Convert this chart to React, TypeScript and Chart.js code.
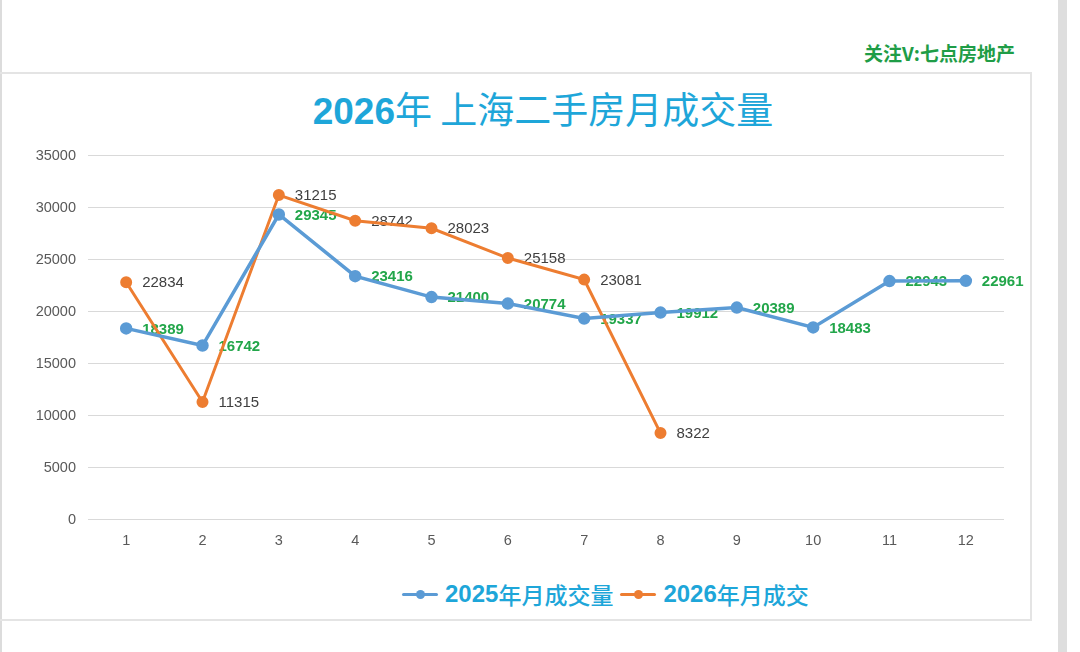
import React, { useEffect, useRef } from "react";
import { Chart, registerables } from "chart.js";

Chart.register(...registerables);

const months = ["1", "2", "3", "4", "5", "6", "7", "8", "9", "10", "11", "12"];
const sales2025 = [18389, 16742, 29345, 23416, 21400, 20774, 19337, 19912, 20389, 18483, 22943, 22961];
const sales2026 = [22834, 11315, 31215, 28742, 28023, 25158, 23081, 8322, null, null, null, null];
const seriesNames = ["2025年月成交量", "2026年月成交"];
const yTicksMax = 35000;
const yTicksStep = 5000;

const BLUE = "#5b9bd5";
const ORANGE = "#ed7d31";
const CYAN = "#1ea6d9";
const GREEN = "#22a64a";

const labelPlugin = {
  id: "valueLabels",
  beforeDatasetsDraw(chart: any) {
    const ctx = chart.ctx;
    ctx.save();
    chart.data.datasets.forEach((ds: any, i: number) => {
      const meta = chart.getDatasetMeta(i);
      meta.data.forEach((pt: any, j: number) => {
        const v = ds.data[j];
        if (v === null || v === undefined) return;
        ctx.font = i === 0 ? "bold 15px 'Liberation Sans', Arial, sans-serif" : "15px 'Liberation Sans', Arial, sans-serif";
        ctx.fillStyle = i === 0 ? GREEN : "#404040";
        ctx.textAlign = "left";
        ctx.textBaseline = "middle";
        ctx.fillText(String(v), pt.x + 16, pt.y + 1);
      });
    });
    ctx.restore();
  },
};

function LegendItem({ color, text }: { color: string; text: string }) {
  const year = text.slice(0, 4);
  const rest = text.slice(4);
  return (
    <div style={{ display: "flex", alignItems: "center", marginRight: 7 }}>
      <div style={{ position: "relative", width: 36, height: 12, marginRight: 7 }}>
        <div style={{ position: "absolute", left: 0, top: 4.5, width: 36, height: 3.5, background: color, borderRadius: 2 }} />
        <div style={{ position: "absolute", left: 13.5, top: 1.5, width: 9, height: 9, background: color, borderRadius: "50%" }} />
      </div>
      <span style={{ color: CYAN, fontFamily: "'Liberation Sans', Arial, sans-serif", fontWeight: 700, fontSize: 24 }}>{year}</span>
      <span style={{ color: CYAN, fontFamily: "'Noto Sans CJK SC', sans-serif", fontWeight: 500, fontSize: 23 }}>{rest}</span>
    </div>
  );
}

export default function App() {
  const canvasRef = useRef<HTMLCanvasElement | null>(null);

  useEffect(() => {
    if (!canvasRef.current) return;
    const chart = new Chart(canvasRef.current, {
      type: "line",
      data: {
        labels: months,
        datasets: [
          {
            label: seriesNames[0],
            data: sales2025,
            borderColor: BLUE,
            backgroundColor: BLUE,
            borderWidth: 3.5,
            pointRadius: 4.5,
            pointBackgroundColor: BLUE,
            pointBorderColor: BLUE,
            tension: 0,
          },
          {
            label: seriesNames[1],
            data: sales2026,
            borderColor: ORANGE,
            backgroundColor: ORANGE,
            borderWidth: 3,
            pointRadius: 4.5,
            pointBackgroundColor: ORANGE,
            pointBorderColor: ORANGE,
            tension: 0,
          },
        ],
      },
      options: {
        animation: false,
        responsive: false,
        devicePixelRatio: 1,
        layout: { padding: { left: 0, right: 27, top: 10, bottom: 12 } },
        plugins: {
          legend: { display: false },
          title: { display: false },
          tooltip: { enabled: false },
        },
        scales: {
          x: {
            offset: true,
            grid: { display: false, drawTicks: false },
            border: { display: false },
            ticks: {
              color: "#595959",
              padding: 13,
              font: { family: "'Liberation Sans', Arial, sans-serif", size: 14.5 },
            },
          },
          y: {
            min: 0,
            max: yTicksMax,
            grid: { color: "#d9d9d9", lineWidth: 1, drawTicks: false },
            border: { display: false },
            ticks: {
              stepSize: yTicksStep,
              color: "#595959",
              padding: 12,
              font: { family: "'Liberation Sans', Arial, sans-serif", size: 14.5 },
              callback: (v: any) => String(v),
            },
            afterFit(scale: any) {
              scale.width = 88;
            },
          },
        },
      },
      plugins: [labelPlugin],
    });
    return () => chart.destroy();
  }, []);

  return (
    <div style={{ position: "fixed", left: 0, top: 0, width: 1080, height: 652, background: "#fff", overflow: "hidden" }}>
      <div style={{ position: "absolute", left: 0, top: 0, width: 2, height: 652, background: "#dcdcdc" }} />
      <div style={{ position: "absolute", left: 1058, top: 0, width: 9, height: 652, background: "#dedede" }} />
      <div
        style={{
          position: "absolute",
          right: 65,
          top: 40,
          color: "#1f9d47",
          fontFamily: "'Noto Sans CJK SC', sans-serif",
          fontWeight: 700,
          fontSize: 19,
          lineHeight: "26px",
          whiteSpace: "nowrap",
        }}
      >
        关注V:七点房地产
      </div>
      <div
        style={{
          position: "absolute",
          left: 0,
          top: 72,
          width: 1030,
          height: 545,
          borderTop: "2px solid #e4e4e4",
          borderRight: "2px solid #e4e4e4",
          borderBottom: "2px solid #e4e4e4",
        }}
      />
      <div
        style={{
          position: "absolute",
          left: 243,
          width: 600,
          top: 84,
          textAlign: "center",
          color: CYAN,
          whiteSpace: "nowrap",
          lineHeight: "48px",
        }}
      >
        <span style={{ fontFamily: "'Liberation Sans', Arial, sans-serif", fontWeight: 700, fontSize: 37 }}>2026</span>
        <span style={{ fontFamily: "'Noto Sans CJK SC', sans-serif", fontWeight: 400, fontSize: 37 }}>年 上海二手房月成交量</span>
      </div>
      <canvas ref={canvasRef} width={1031} height={440} style={{ position: "absolute", left: 0, top: 135, width: 1031, height: 440 }} />
      <div style={{ position: "absolute", left: 402, top: 576, height: 36, display: "flex", alignItems: "center" }}>
        <LegendItem color={BLUE} text={seriesNames[0]} />
        <LegendItem color={ORANGE} text={seriesNames[1]} />
      </div>
    </div>
  );
}
